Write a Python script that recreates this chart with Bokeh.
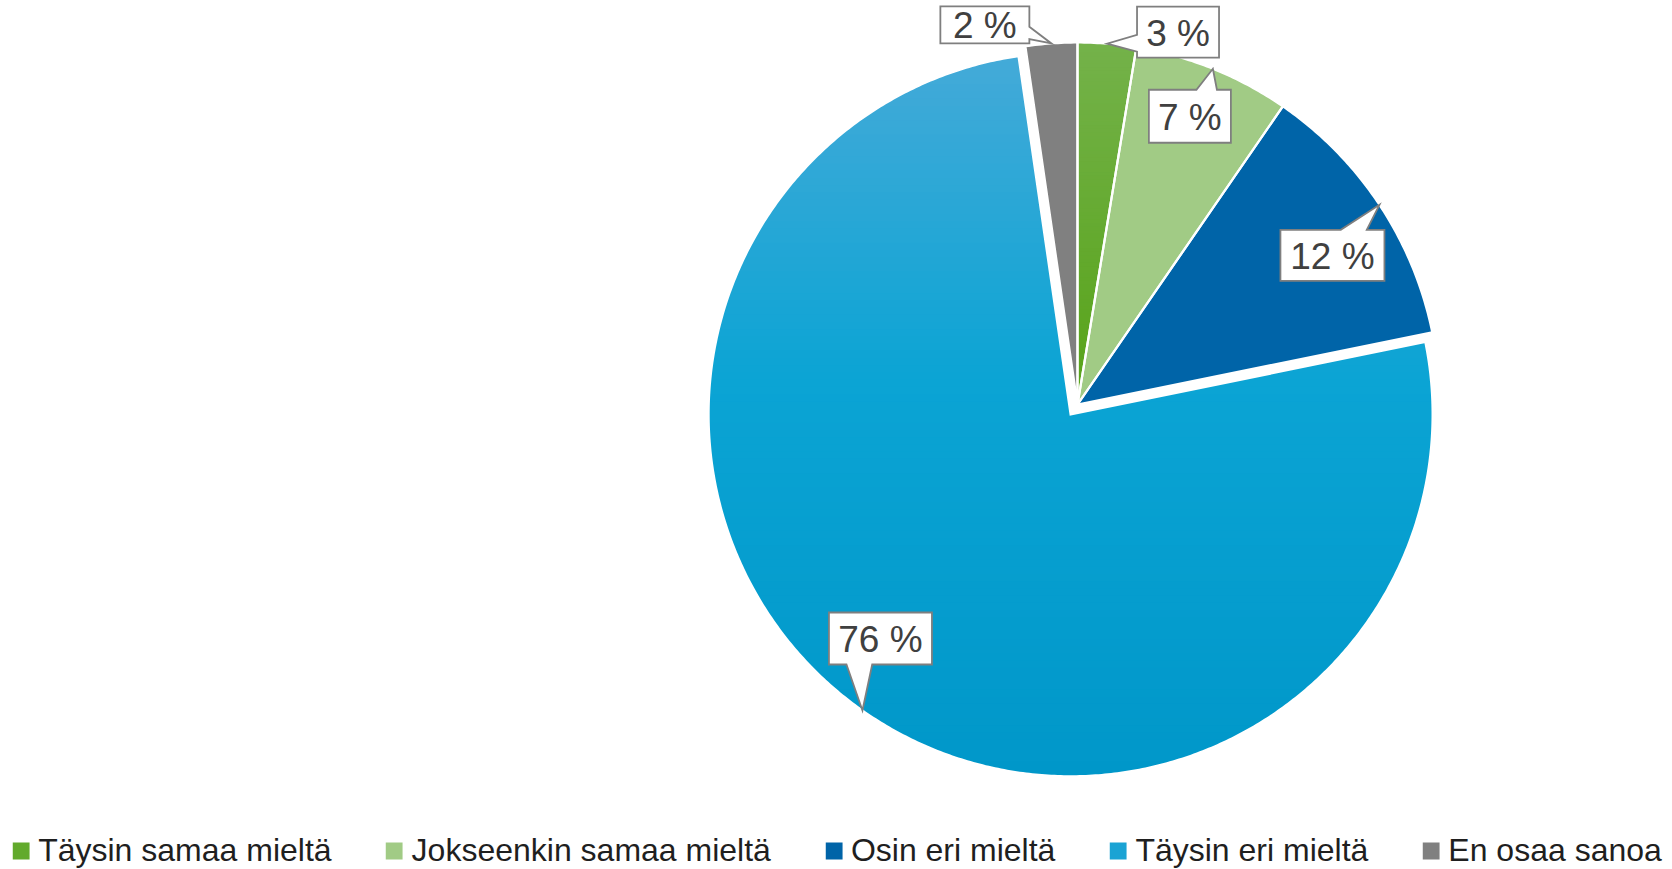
import math
from bokeh.plotting import figure
from bokeh.models import Legend, LegendItem, Range1d
from bokeh.core.properties import value
from bokeh.embed import file_html
from bokeh.resources import INLINE

# ---------------- data ----------------
categories = ["Täysin samaa mieltä", "Jokseenkin samaa mieltä", "Osin eri mieltä",
              "Täysin eri mieltä", "En osaa sanoa"]
shares = [2.6, 7.0, 12.2, 75.9, 2.3]
labels = ["3 %", "7 %", "12 %", "76 %", "2 %"]

# ---------------- styles / layout ----------------
grad_stops = [
    [(0.0, "#74b24a"), (1.0, "#57a318")],
    [(0.0, "#a1cb85"), (1.0, "#a1cb85")],
    [(0.0, "#0064a8"), (1.0, "#0064a8")],
    [(0.0, "#44aad8"), (0.45, "#0ba4d4"), (1.0, "#0097c9")],
    [(0.0, "#808080"), (1.0, "#808080")],
]
legend_colors = ["#62aa2c", "#a1cb85", "#0064a8", "#1aa3d4", "#808080"]
explode = [0, 0, 0, 12, 0]
label_offsets = [(71, -11.5), (-23, 47.5), (-47, 50.5), (18, -72), (-66.5, -18.5)]
label_sizes = [(82, 51), (82, 53), (104, 51), (103, 52), (89, 37)]

W, H = 1672, 869
CX, CY, R = 1077, 404, 362
FONT = "Liberation Sans"

p = figure(width=W, height=H, output_backend="svg", toolbar_location=None,
           x_range=Range1d(0, W), y_range=Range1d(H, 0), min_border=0)
p.axis.visible = False
p.grid.visible = False
p.outline_line_color = None
p.background_fill_color = "white"
p.border_fill_color = "white"


def clip_half(poly, f):
    out = []
    n = len(poly)
    for i in range(n):
        cur, prev = poly[i], poly[i - 1]
        fc, fp = f(cur), f(prev)
        if fc >= 0:
            if fp < 0:
                t = fp / (fp - fc)
                out.append((prev[0] + t * (cur[0] - prev[0]), prev[1] + t * (cur[1] - prev[1])))
            out.append(cur)
        elif fp >= 0:
            t = fp / (fp - fc)
            out.append((prev[0] + t * (cur[0] - prev[0]), prev[1] + t * (cur[1] - prev[1])))
    return out


def hex2rgb(h):
    h = h.lstrip("#")
    return tuple(int(h[i:i + 2], 16) for i in (0, 2, 4))


def grad_color(stops, t):
    for k in range(len(stops) - 1):
        t0, c0 = stops[k]
        t1, c1 = stops[k + 1]
        if t <= t1 or k == len(stops) - 2:
            u = 0 if t1 == t0 else min(1, max(0, (t - t0) / (t1 - t0)))
            a, b = hex2rgb(c0), hex2rgb(c1)
            return "#%02x%02x%02x" % tuple(int(round(a[j] + (b[j] - a[j]) * u)) for j in range(3))
    return stops[-1][1]


total = sum(shares)
cum = 0.0
slices = []
anchors = []
for i, s in enumerate(shares):
    a0 = cum / total * 2 * math.pi
    a1 = (cum + s) / total * 2 * math.pi
    cum += s
    mid = (a0 + a1) / 2
    cx = CX + explode[i] * math.sin(mid)
    cy = CY - explode[i] * math.cos(mid)
    n = max(8, int((a1 - a0) / (2 * math.pi) * 720))
    poly = [(cx, cy)] + [(cx + R * math.sin(a0 + (a1 - a0) * k / n),
                          cy - R * math.cos(a0 + (a1 - a0) * k / n)) for k in range(n + 1)]
    slices.append(poly)
    anchors.append((cx + R * math.sin(mid), cy - R * math.cos(mid)))

# fills (vertical gradient where needed)
for i, poly in enumerate(slices):
    stops = grad_stops[i]
    if all(c == stops[0][1] for _, c in stops):
        p.patch([q[0] for q in poly], [q[1] for q in poly], fill_color=stops[0][1],
                line_color=None)
        continue
    ys = [q[1] for q in poly]
    y0, y1 = min(ys), max(ys)
    nb = 100
    bx, by, bc = [], [], []
    for b in range(nb):
        ya = y0 + (y1 - y0) * b / nb - 0.6
        yb = y0 + (y1 - y0) * (b + 1) / nb + 0.6
        part = clip_half(poly, lambda q: q[1] - ya)
        if not part:
            continue
        part = clip_half(part, lambda q: yb - q[1])
        if len(part) < 3:
            continue
        bx.append([q[0] for q in part])
        by.append([q[1] for q in part])
        bc.append(grad_color(stops, (b + 0.5) / nb))
    p.patches(bx, by, fill_color=bc, line_color=None)

# white slice borders
p.patches([[q[0] for q in poly] for poly in slices], [[q[1] for q in poly] for poly in slices],
          fill_color=None, line_color="white", line_width=2.2, line_join="miter")

# callouts
cxs, cys, tx, ty = [], [], [], []
for i in range(len(shares)):
    ax_, ay_ = anchors[i]
    dx, dy = label_offsets[i]
    w, h = label_sizes[i]
    bxc, byc = ax_ + dx, ay_ + dy
    x0, x1, y0, y1 = bxc - w / 2, bxc + w / 2, byc - h / 2, byc + h / 2
    rx, ry = ax_ - bxc, ay_ - byc
    TL, TR, BR, BL = (x0, y0), (x1, y0), (x1, y1), (x0, y1)
    apex = (ax_, ay_)
    if abs(rx) > w / 2:
        f0, f1 = (0.55, 0.88)
        if ry >= 0:
            p0, p1 = y0 + f0 * h, y0 + f1 * h
        else:
            p0, p1 = y1 - f1 * h, y1 - f0 * h
        if rx > 0:
            pts = [TL, TR, (x1, p0), apex, (x1, p1), BR, BL]
        else:
            pts = [TL, TR, BR, BL, (x0, p1), apex, (x0, p0)]
    else:
        f0, f1 = (0.58, 0.83)
        if rx >= 0:
            p0, p1 = x0 + f0 * w, x0 + f1 * w
        else:
            p0, p1 = x1 - f1 * w, x1 - f0 * w
        if ry < 0:
            pts = [TL, (p0, y0), apex, (p1, y0), TR, BR, BL]
        else:
            pts = [TL, TR, BR, (p1, y1), apex, (p0, y1), BL]
    cxs.append([q[0] for q in pts])
    cys.append([q[1] for q in pts])
    tx.append(bxc)
    ty.append(byc + 1)

p.patches(cxs, cys, fill_color="white", line_color="#7f7f7f", line_width=1.8,
          line_join="miter")
p.text(x=tx, y=ty, text=labels, text_font=value(FONT), text_font_size="37px",
       text_color="#404040", text_align="center", text_baseline="middle")

# legend
items = []
for i, c in enumerate(categories):
    r = p.quad(left=[-100], right=[-90], top=[-100], bottom=[-90],
               fill_color=legend_colors[i], line_color=None)
    items.append(LegendItem(label=c, renderers=[r]))
legend = Legend(items=items, orientation="horizontal", location="bottom",
                glyph_width=21, glyph_height=21, label_standoff=7, spacing=52,
                padding=0, margin=0, border_line_color=None, background_fill_alpha=0,
                label_text_font=FONT, label_text_font_size="32px",
                label_text_color="#1f1f1f")
p.add_layout(legend)

open("out.html", "w").write(file_html(p, INLINE))
